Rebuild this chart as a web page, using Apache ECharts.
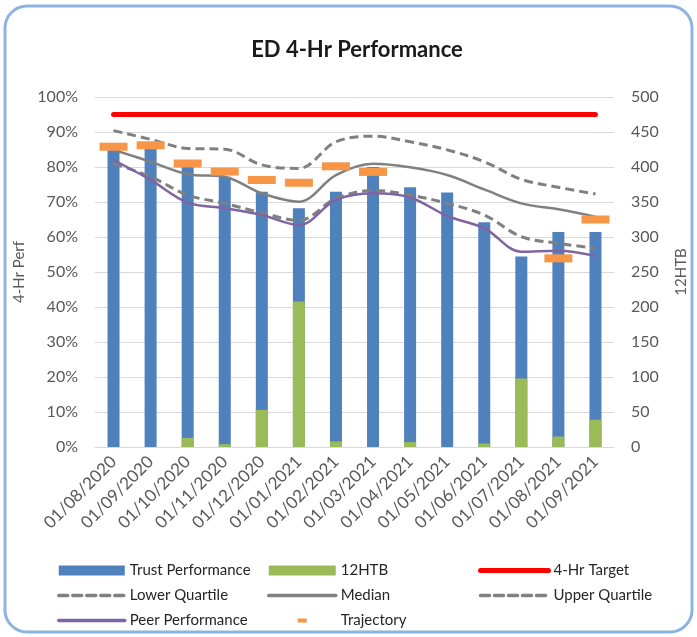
<!DOCTYPE html>
<html>
<head>
<meta charset="utf-8">
<title>ED 4-Hr Performance</title>
<script src="https://cdn.jsdelivr.net/npm/echarts@6/dist/echarts.min.js"></script>
<style>
    html, body { margin: 0; padding: 0; background: #ffffff; }
    #chart { width: 697px; height: 637px; }
</style>
</head>
<body>
<div id="chart"></div>
<script>
// ============================================
// 数据
// ============================================

const months = ['01/08/2020', '01/09/2020', '01/10/2020', '01/11/2020', '01/12/2020', '01/01/2021', '01/02/2021',
    '01/03/2021', '01/04/2021', '01/05/2021', '01/06/2021', '01/07/2021', '01/08/2021', '01/09/2021'];

// 左轴 (%)
const trustPerformance = [85.5, 86.5, 80, 77.2, 72.9, 68.2, 72.9, 80, 74.2, 72.7, 64.2, 54.4, 61.4, 61.4];
const target = [95, 95, 95, 95, 95, 95, 95, 95, 95, 95, 95, 95, 95, 95];
const lowerQuartile = [81, 77.2, 72, 69.6, 66.9, 64.7, 71, 73.3, 72, 69.6, 66.3, 60.1, 58.2, 56.8];
const median = [84.9, 81.5, 77.9, 77.2, 72.5, 70.1, 77.7, 80.9, 79.9, 77.7, 73.6, 69.6, 67.9, 65.8];
const upperQuartile = [90.4, 87.9, 85.3, 85.1, 80.6, 79.6, 87.2, 88.8, 87.2, 84.9, 81.5, 76.5, 74.2, 72.3];
const peerPerformance = [82, 76.3, 69.8, 68.2, 66.3, 63.4, 70.6, 72.5, 71.3, 66, 62.5, 55.8, 56.1, 54.6];
const trajectory = [85.8, 86.2, 81, 78.7, 76.3, 75.5, 80.2, 78.6, null, null, null, null, 53.9, 65];

// 右轴 (12HTB)
const htb = [0, 0, 13, 4, 53, 208, 8, 0, 7, 0, 5, 98, 15, 39];

// ============================================
// 样式
// ============================================

const FONT = 'Lato, "Noto Sans", sans-serif';
const AXIS_GREY = '#595959';
const GRID_GREY = '#D9D9D9';

const legendText = { fontFamily: FONT, fontSize: 15, color: '#262626' };

// 图例中线条: 不显示中间的圆点, 线更粗
function lineItem(name, width) {
    return {
        name: name,
        itemStyle: { opacity: 0 },
        lineStyle: { width: width || 3.5, cap: 'round' }
    };
}

function legendColumn(left, width, items) {
    return {
        orient: 'vertical',
        left: left,
        top: 563,
        itemWidth: width,
        itemHeight: 10,
        itemGap: 10,
        padding: 0,
        selectedMode: false,
        textStyle: legendText,
        data: items
    };
}

function dashedLine(name, values) {
    return {
        name: name,
        type: 'line',
        data: values,
        symbol: 'none',
        smooth: 0.35,
        lineStyle: { color: '#808080', width: 3, type: [9, 5] },
        itemStyle: { color: '#808080' },
        z: 3
    };
}

// ============================================
// 图表
// ============================================

const chart = echarts.init(document.getElementById('chart'), null, { renderer: 'canvas' });

chart.setOption({
    animation: false,
    backgroundColor: '#ffffff',
    title: {
        text: 'ED 4-Hr Performance',
        left: 352,
        top: 34,
        textAlign: 'center',
        textStyle: { fontFamily: FONT, fontSize: 22, fontWeight: 'bold', color: '#1a1a1a' }
    },
    graphic: [{
        type: 'rect',
        shape: { x: 5, y: 6, width: 687, height: 626, r: 22 },
        style: { fill: 'none', stroke: '#8DB3E2', lineWidth: 3 },
        silent: true
    }],
    grid: { left: 95, right: 75, top: 97, bottom: 190 },
    legend: [
        legendColumn(57, 66, [
            { name: 'Trust Performance', icon: 'rect' },
            lineItem('Lower Quartile'),
            lineItem('Peer Performance')
        ]),
        legendColumn(267, 67, [
            { name: '12HTB', icon: 'rect' },
            lineItem('Median'),
            { name: 'Trajectory', icon: 'path://M0,0M67,10M29,3h9v4h-9z' }
        ]),
        legendColumn(478, 68, [
            lineItem('4-Hr Target', 5),
            lineItem('Upper Quartile')
        ])
    ],
    xAxis: {
        type: 'category',
        data: months,
        axisLine: { lineStyle: { color: GRID_GREY, width: 1 } },
        axisTick: { show: false },
        axisLabel: {
            interval: 0,
            rotate: 45,
            margin: 12,
            fontFamily: FONT,
            fontSize: 17,
            color: AXIS_GREY
        }
    },
    yAxis: [{
        type: 'value',
        min: 0,
        max: 100,
        interval: 10,
        name: '4-Hr Perf',
        nameLocation: 'middle',
        nameRotate: 90,
        nameGap: 64,
        nameTextStyle: { fontFamily: FONT, fontSize: 15, color: AXIS_GREY },
        axisLine: { show: false },
        axisTick: { show: false },
        axisLabel: { formatter: '{value}%', margin: 17, fontFamily: FONT, fontSize: 16, color: AXIS_GREY },
        splitLine: { lineStyle: { color: GRID_GREY, width: 1 } }
    }, {
        type: 'value',
        min: 0,
        max: 500,
        interval: 50,
        name: '12HTB',
        nameLocation: 'middle',
        nameRotate: 90,
        nameGap: 60,
        nameTextStyle: { fontFamily: FONT, fontSize: 15, color: AXIS_GREY },
        axisLine: { show: false },
        axisTick: { show: false },
        axisLabel: { margin: 17, fontFamily: FONT, fontSize: 16, color: AXIS_GREY },
        splitLine: { show: false }
    }],
    series: [
        {
            name: 'Trust Performance',
            type: 'bar',
            data: trustPerformance,
            barWidth: 12,
            barGap: '-100%',
            itemStyle: { color: '#4F81BD' },
            z: 1
        },
        {
            name: '12HTB',
            type: 'bar',
            yAxisIndex: 1,
            data: htb,
            barWidth: 12,
            barGap: '-100%',
            itemStyle: { color: '#9BBB59' },
            z: 1
        },
        {
            name: '4-Hr Target',
            type: 'line',
            data: target,
            symbol: 'none',
            lineStyle: { color: '#FF0000', width: 5, cap: 'round' },
            itemStyle: { color: '#FF0000' },
            z: 3
        },
        dashedLine('Lower Quartile', lowerQuartile),
        {
            name: 'Median',
            type: 'line',
            data: median,
            symbol: 'none',
            smooth: 0.35,
            lineStyle: { color: '#808080', width: 2.5 },
            itemStyle: { color: '#808080' },
            z: 3
        },
        dashedLine('Upper Quartile', upperQuartile),
        {
            name: 'Peer Performance',
            type: 'line',
            data: peerPerformance,
            symbol: 'none',
            smooth: 0.35,
            lineStyle: { color: '#8064A2', width: 2.5 },
            itemStyle: { color: '#8064A2' },
            z: 4
        },
        {
            name: 'Trajectory',
            type: 'line',
            data: trajectory,
            symbol: 'rect',
            symbolSize: [28, 8],
            showSymbol: true,
            connectNulls: false,
            lineStyle: { width: 0, opacity: 0 },
            itemStyle: { color: '#F79646' },
            z: 5
        }
    ]
});
</script>
</body>
</html>
